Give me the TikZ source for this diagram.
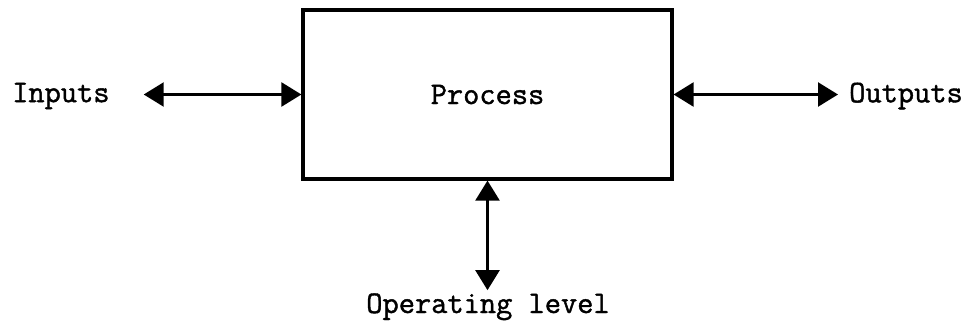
\documentclass[tikz,border=0pt]{standalone}
\usepackage{fontspec}
\usetikzlibrary{arrows.meta}
% typewriter face, slightly emboldened
\newfontfamily\lbltt[FakeBold=1.3]{Latin Modern Mono}
\begin{document}
\begin{tikzpicture}[x=1pt,y=-1pt,
  lbl/.style={font=\fontsize{31.5}{34}\selectfont\lbltt, inner sep=0pt},
  procbox/.style={draw, line width=3.2pt, minimum width=369pt, minimum height=169pt, inner sep=0pt},
  flow/.style={line width=2.4pt, {Triangle[length=20pt,width=24pt]}-{Triangle[length=20pt,width=24pt]}}
]
\useasboundingbox (0,0) rectangle (971,324);
\node[procbox, lbl] (proc) at (487.5,94.5) {Process};
\node[lbl, anchor=west] (inp) at (12,96) {Inputs};
\node[lbl, anchor=west] (outp) at (849,96) {Outputs};
\node[lbl, anchor=base] (oplev) at (488,313) {Operating level};
\draw[flow, shorten <=34pt] (inp.east |- proc.west) -- (proc.west);
\draw[flow, shorten >=11pt] (proc.east) -- (proc.east -| outp.west);
\draw[flow, shorten >=3pt] (proc.south) -- (proc.south |- oplev.north);
\end{tikzpicture}
\end{document}
